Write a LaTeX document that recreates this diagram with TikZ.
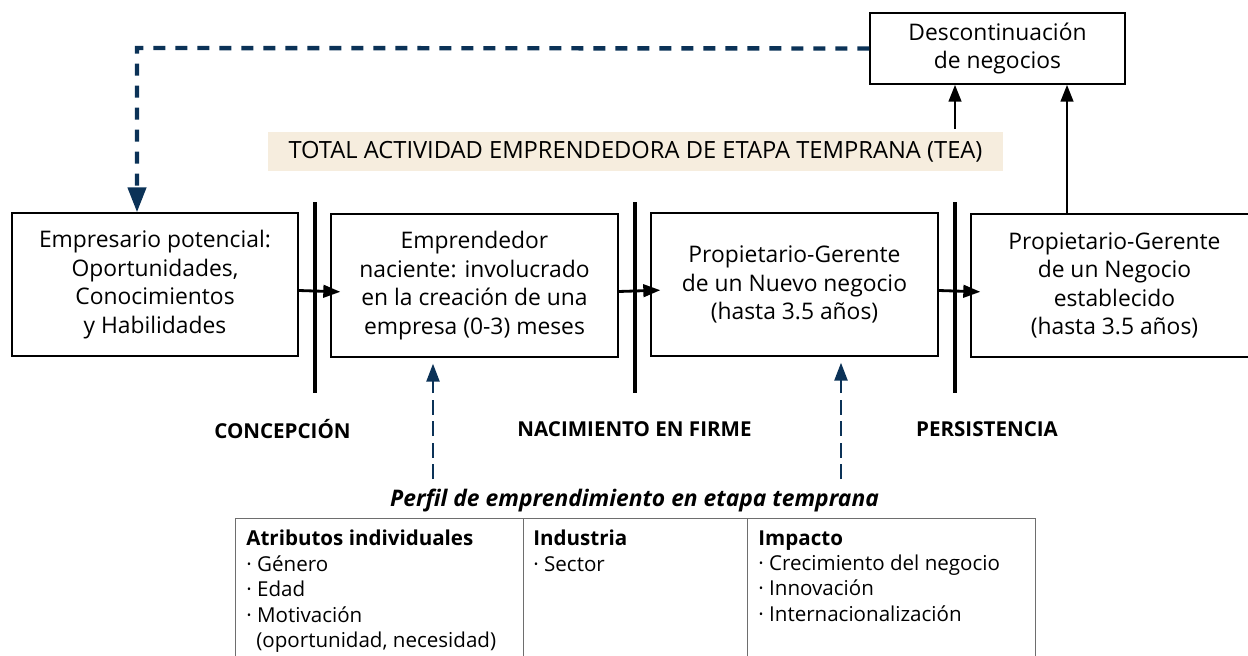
\documentclass[tikz,border=0pt]{standalone}
\usepackage{fontspec}
\setmainfont{Open Sans}
\usetikzlibrary{arrows.meta}

\definecolor{gemnavy}{RGB}{11,50,87}
\definecolor{teabeige}{RGB}{246,237,222}
\definecolor{tablegray}{RGB}{110,110,110}

\tikzset{
	stagebox/.style={draw, line width=0.8pt, minimum width=5.74cm, minimum height=2.86cm, inner sep=0pt, align=center, font=\fontsize{13}{16.2}\selectfont},
	flowarrow/.style={line width=1.6pt, -{Triangle[length=0.34cm,width=0.25cm]}},
	phasebar/.style={line width=2.8pt},
	feedback/.style={gemnavy, line width=2.5pt, dash pattern=on 0.24cm off 0.2cm, -{Triangle[length=0.5cm,width=0.36cm]}},
	profilearrow/.style={gemnavy, line width=1.4pt, dash pattern=on 0.3cm off 0.13cm, -{Triangle[length=0.36cm,width=0.26cm]}},
	phaselabel/.style={font=\fontsize{11.7}{14}\selectfont\bfseries},
	tablecol/.style={draw=tablegray, line width=0.8pt, anchor=north west, minimum height=4cm, inner sep=0pt},
	coltext/.style={anchor=north west, inner sep=0pt, align=left, font=\fontsize{11.7}{14.5}\selectfont}
}

\begin{document}
\begin{tikzpicture}[x=0.02cm,y=-0.02cm]

		\clip (0,0) rectangle (1248,656);

			% etapas
			\node[stagebox, minimum width=5.72cm] (potencial) at (155,284.5) {Empresario potencial:\\Oportunidades,\\Conocimientos\\y Habilidades};
			\node[stagebox] (naciente) at (474.5,285.5) {Emprendedor\\naciente: involucrado\\en la creación de una\\empresa (0-3) meses};
			\node[stagebox] (nuevo) at (794.5,284.5) {Propietario-Gerente\\de un Nuevo negocio\\(hasta 3.5 años)};
			\node[stagebox] (establecido) at (1114.5,285.5) {Propietario-Gerente\\de un Negocio\\establecido\\(hasta 3.5 años)};

			\node[draw, line width=0.8pt, minimum width=5.1cm, minimum height=1.42cm, inner sep=0pt, align=center, font=\fontsize{13}{16.2}\selectfont] (descont) at (997.5,48.5) {Descontinuación\\de negocios};

			\node[fill=teabeige, minimum width=14.7cm, minimum height=0.78cm, inner sep=0pt, font=\fontsize{13.5}{16}\selectfont] (tea) at (635.5,151.5) {TOTAL ACTIVIDAD EMPRENDEDORA DE ETAPA TEMPRANA (TEA)};

			% barras de fase
			\coordinate (barA) at (315,202);
			\coordinate (barB) at (635,202);
			\coordinate (barC) at (955,202);
			\draw[phasebar] (barA) -- ++(0,191);
			\draw[phasebar] (barB) -- ++(0,191);
			\draw[phasebar] (barC) -- ++(0,191);

			\node[phaselabel] (concepcion) at (282.5,429) {CONCEPCIÓN};
			\node[phaselabel] (nacimiento) at (634.5,429) {NACIMIENTO EN FIRME};
			\node[phaselabel] (persistencia) at (987,429) {PERSISTENCIA};

			% flechas entre etapas
			\draw[flowarrow, shorten >=-0.2cm] ([yshift=-0.12cm]potencial.east) -- ([yshift=-0.12cm]naciente.west);
			\draw[flowarrow, shorten >=-0.2cm] ([yshift=-0.12cm]naciente.east) -- ([yshift=-0.12cm]nuevo.west);
			\draw[flowarrow, shorten >=-0.2cm] ([yshift=-0.12cm]nuevo.east) -- ([yshift=-0.12cm]establecido.west);

			\coordinate (salida) at (1067,214);
			\draw[flowarrow, shorten <=0.05cm] (tea.north -| barC) -- (descont.south -| barC);
			\draw[flowarrow] (establecido.north -| salida) -- (descont.south -| salida);

			% retorno
			\coordinate (esquina) at (137,48);
			\draw[feedback] (descont.west) -- (esquina) -- (esquina |- potencial.north);

			% perfil
			\node[font=\fontsize{13}{16}\selectfont\bfseries\itshape] (perfil) at (634.5,500) {Perfil de emprendimiento en etapa temprana};

			\coordinate (perfilA) at (433,479);
			\coordinate (perfilB) at (841,479);
			\draw[profilearrow, shorten >=0.12cm] (perfilA) -- (perfilA |- naciente.south);
			\draw[profilearrow, shorten >=0.12cm] (perfilB) -- (perfilB |- nuevo.south);

			\node[tablecol, minimum width=5.77cm] (colA) at (234.6,518) {};
			\node[tablecol, minimum width=4.48cm] (colB) at (523,518) {};
			\node[tablecol, minimum width=5.76cm] (colC) at (747,518) {};

			\node[coltext] (atributos) at (246,530) {\textbf{Atributos individuales}\\· Género\\· Edad\\· Motivación\\\hspace{0.2cm}(oportunidad, necesidad)};
			\node[coltext] (industria) at (533,530) {\textbf{Industria}\\· Sector};
			\node[coltext] (impacto) at (758,530) {\textbf{Impacto}\\· Crecimiento del negocio\\· Innovación\\· Internacionalización};

	\end{tikzpicture}
\end{document}
